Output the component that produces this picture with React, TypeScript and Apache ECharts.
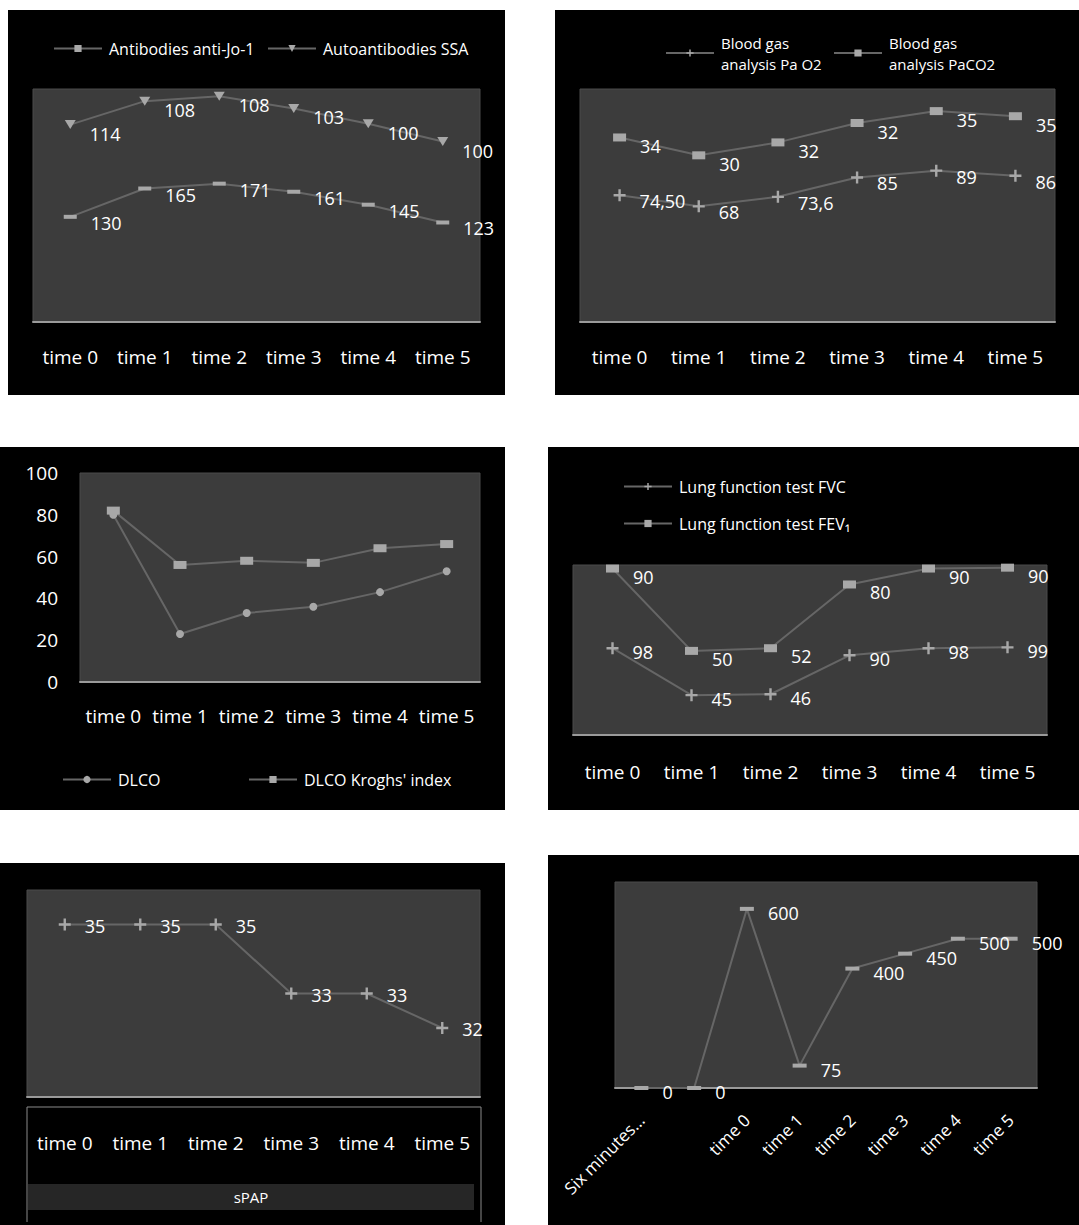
import React, { useEffect, useRef } from "react";
import * as echarts from "echarts";

const FONT = '"Open Sans", "Noto Sans", sans-serif';

const timeCats = ["time 0", "time 1", "time 2", "time 3", "time 4", "time 5"];
const walkCats = ["Six minutes...", "", "time 0", "time 1", "time 2", "time 3", "time 4", "time 5"];

const antiJo1 = [130, 165, 171, 161, 145, 123];
const ssa = [114, 108, 108, 103, 100, 100];

const paO2 = [74.5, 68, 73.6, 85, 89, 86];
const paO2Labels = ["74,50", "68", "73,6", "85", "89", "86"];
const paCO2 = [34, 30, 32, 32, 35, 35];

const dlco = [80, 23, 33, 36, 43, 53];
const krogh = [82, 56, 58, 57, 64, 66];
const dlcoTicks = [0, 20, 40, 60, 80, 100];

const fvc = [98, 45, 46, 90, 98, 99];
const fev1 = [90, 50, 52, 80, 90, 90];

const spap = [35, 35, 35, 33, 33, 32];

const walk = [0, 0, 600, 75, 400, 450, 500, 500];

const PLUS = "path://M4,0 H6 V4 H10 V6 H6 V10 H4 V6 H0 V4 H4 Z";
const LINE_C = "#666666";
const MARK_C = "#a8a8a8";

function label(offsetY: number, formatter?: any) {
  const l: any = {
    show: true,
    position: "right",
    distance: 14,
    offset: [0, offsetY],
    color: "#ffffff",
    fontSize: 18,
    fontFamily: FONT,
  };
  if (formatter) l.formatter = formatter;
  return l;
}

function lineSeries(name: string, data: number[], idx: number, symbol: any, symbolSize: any, extra: any = {}) {
  return {
    type: "line",
    name,
    data,
    xAxisIndex: idx,
    yAxisIndex: idx,
    symbol,
    symbolSize,
    showAllSymbol: true,
    lineStyle: { color: LINE_C, width: 2 },
    itemStyle: { color: MARK_C, borderWidth: 0 },
    emphasis: { disabled: true },
    ...extra,
  };
}

function grid(left: number, top: number, width: number, height: number) {
  return {
    left,
    top,
    width,
    height,
    show: true,
    backgroundColor: "#3c3c3c",
    borderColor: "#4a4a4a",
    borderWidth: 1,
    containLabel: false,
    outerBoundsMode: "none",
  };
}

function xAxis(idx: number, data: string[], margin: number, extraLabel: any = {}) {
  return {
    type: "category",
    gridIndex: idx,
    data,
    boundaryGap: true,
    axisLine: { show: true, lineStyle: { color: "#9a9a9a", width: 2 } },
    axisTick: { show: false },
    splitLine: { show: false },
    axisLabel: {
      color: "#ffffff",
      fontSize: 19,
      fontFamily: FONT,
      margin,
      interval: 0,
      ...extraLabel,
    },
  };
}

function yAxisHidden(idx: number, min: number, max: number) {
  return { type: "value", gridIndex: idx, min, max, show: false };
}

function legend(name: string, left: number, top: number, formatter?: any, textExtra: any = {}) {
  const l: any = {
    data: [name],
    left,
    top,
    itemWidth: 48,
    itemHeight: 9,
    itemGap: 10,
    textStyle: {
      color: "#ffffff",
      fontSize: 16,
      fontFamily: FONT,
      lineHeight: 19,
      padding: [0, 0, 0, 2],
      ...textExtra,
    },
    inactiveColor: "#ffffff",
    selectedMode: false,
  };
  if (formatter) l.formatter = formatter;
  return l;
}

function panel(x: number, y: number, w: number, h: number) {
  return { type: "rect", z: -10, shape: { x, y, width: w, height: h }, style: { fill: "#000000" }, silent: true };
}

export default function App() {
  const ref = useRef<HTMLDivElement>(null);

  useEffect(() => {
    if (!ref.current) return;
    const chart = echarts.init(ref.current, null, { renderer: "svg" });

    const option: any = {
      animation: false,
      backgroundColor: "#ffffff",
      textStyle: { fontFamily: FONT },
      graphic: [
        panel(8, 10, 497, 385),
        panel(555, 10, 524, 385),
        panel(0, 447, 505, 363),
        panel(548, 447, 531, 363),
        panel(0, 863, 505, 362),
        panel(548, 855, 531, 370),
        {
          type: "polyline",
          z: -5,
          shape: { points: [[27, 1222], [27, 1107], [481, 1107], [481, 1222]] },
          style: { stroke: "#8a8a8a", lineWidth: 1, fill: null },
          silent: true,
        },
        {
          type: "rect",
          z: -5,
          shape: { x: 28, y: 1184, width: 446, height: 26 },
          style: { fill: "#262626" },
          silent: true,
        },
        {
          type: "text",
          z: 5,
          x: 251,
          y: 1197,
          style: {
            text: "sPAP",
            fill: "#ffffff",
            fontSize: 15,
            fontFamily: FONT,
            align: "center",
            verticalAlign: "middle",
          },
          silent: true,
        },
      ],
      legend: [
        legend("Antibodies anti-Jo-1", 48, 34),
        legend("Autoantibodies SSA", 262, 34),
        legend("Blood gas analysis Pa O2", 660, 27, () => "Blood gas\nanalysis Pa O2", { fontSize: 15, lineHeight: 21 }),
        legend("Blood gas analysis PaCO2", 828, 27, () => "Blood gas\nanalysis PaCO2", { fontSize: 15, lineHeight: 21 }),
        legend("DLCO", 57, 765),
        legend("DLCO Kroghs' index", 243, 765),
        legend("Lung function test FVC", 618, 472),
        legend("Lung function test FEV\u2081", 618, 509),
      ],
      grid: [
        grid(33, 89, 447, 233),
        grid(580, 89, 475, 233),
        grid(80, 473, 400, 209),
        grid(573, 565, 474, 170),
        grid(27, 890, 453, 207),
        grid(615, 882, 422, 206),
      ],
      xAxis: [
        xAxis(0, timeCats, 25),
        xAxis(1, timeCats, 25),
        xAxis(2, timeCats, 24),
        xAxis(3, timeCats, 27),
        xAxis(4, timeCats, 36),
        xAxis(5, walkCats, 29, { rotate: 45, fontSize: 17 }),
      ],
      yAxis: [
        yAxisHidden(0, 0, 288),
        yAxisHidden(1, 0, 137),
        {
          type: "value",
          gridIndex: 2,
          min: dlcoTicks[0],
          max: dlcoTicks[dlcoTicks.length - 1],
          interval: 20,
          axisLine: { show: false },
          axisTick: { show: false },
          splitLine: { show: false },
          axisLabel: { color: "#ffffff", fontSize: 19, fontFamily: FONT, margin: 22 },
        },
        yAxisHidden(3, 0, 192),
        yAxisHidden(4, 30, 36),
        yAxisHidden(5, 0, 690),
      ],
      series: [
        lineSeries("Antibodies anti-Jo-1", antiJo1, 0, "rect", [13, 4], { stack: "p1", label: label(6) }),
        lineSeries("Autoantibodies SSA", ssa, 0, "triangle", [11, 9], { stack: "p1", symbolRotate: 180, label: label(9) }),
        lineSeries("Blood gas analysis Pa O2", paO2, 1, PLUS, 12, {
          stack: "p2",
          label: label(6, (p: any) => paO2Labels[p.dataIndex]),
        }),
        lineSeries("Blood gas analysis PaCO2", paCO2, 1, "rect", [13, 8], { stack: "p2", label: label(9) }),
        lineSeries("DLCO", dlco, 2, "circle", 8),
        lineSeries("DLCO Kroghs' index", krogh, 2, "rect", [13, 8]),
        lineSeries("Lung function test FVC", fvc, 3, PLUS, 12, { stack: "p4", label: label(4) }),
        lineSeries("Lung function test FEV\u2081", fev1, 3, "rect", [13, 8], { stack: "p4", label: label(8) }),
        lineSeries("sPAP", spap, 4, PLUS, 12, { label: label(1) }),
        lineSeries("Six minutes walking test", walk, 5, "rect", [14, 4], { label: label(4) }),
      ],
    };

    chart.setOption(option);
    return () => {
      chart.dispose();
    };
  }, []);

  return (
    <div
      ref={ref}
      style={{ position: "absolute", left: 0, top: 0, width: 1079, height: 1225 }}
    />
  );
}
